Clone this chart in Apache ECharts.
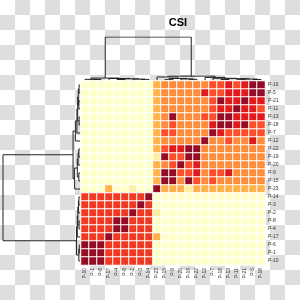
<!DOCTYPE html>
<html>
<head>
<meta charset="utf-8">
<script src="https://cdn.jsdelivr.net/npm/echarts/dist/echarts.min.js"></script>
<style>
  html, body { margin: 0; padding: 0; }
  body { background: repeating-conic-gradient(#dedede 0 25%, #fff 0 50%) 0 0 / 30px 30px; }
  #main { width: 300px; height: 300px; }
</style>
</head>
<body>
<div id="main"></div>
<script>
// column order of the heatmap (left to right); rows are the same leaves, top to bottom reversed
const colLabels = ['P-10', 'P-1', 'P-6', 'P-17', 'P-4', 'P-8', 'P-2', 'P-3', 'P-14', 'P-23',
  'P-15', 'P-9', 'P-20', 'P-19', 'P-22', 'P-12', 'P-7', 'P-18', 'P-13', 'P-11', 'P-21', 'P-5', 'P-16'];
const rowLabels = colLabels.slice().reverse();

// colour level of each cell, one string per row (top to bottom), one digit per column
const cellLevels = [
  '000000000' + '3' + '4444445575799',
  '000000000' + '3' + '4444475577799',
  '000000000' + '3' + '4444445977977',
  '000000000' + '3' + '4444445779775',
  '000000000' + '3' + '4944455997777',
  '000000000' + '3' + '4544447997955',
  '000000000' + '3' + '5544449755555',
  '000000000' + '3' + '4444494454474',
  '000000000' + '3' + '5779944444444',
  '000000000' + '1' + '9559944444444',
  '000000000' + '3' + '4595744444444',
  '000000000' + '3' + '9955745574444',
  '000000000' + '3' + '9949545444444',
  '000300100' + '9' + '3331333333333',
  '666666669' + '0' + '0000000000000',
  '666666696' + '0' + '0000000000000',
  '666666966' + '1' + '0000000000000',
  '666699666' + '0' + '0000000000000',
  '666699666' + '0' + '0000000000000',
  '666966666' + '3' + '0000000000000',
  '999666666' + '0' + '0000000000000',
  '999666666' + '0' + '0000000000000',
  '999666666' + '0' + '0000000000000'
];

const levelColors = ['#FFFFCC', '#FFEDA0', '#FED976', '#FEB24C', '#FD8D3C',
  '#FC4E2A', '#EF3B24', '#E31A1C', '#BD0026', '#950D25'];

// clustering merges, hclust style: negative = leaf (column position), positive = earlier merge
const merges = [
  [-2, -3, 0.010], [-1, 1, 0.015], [-5, -6, 0.012], [-8, -9, 0.014],
  [-7, 4, 0.020], [3, 5, 0.028], [-4, 6, 0.035], [2, 7, 0.045],
  [-11, -12, 0.015], [-14, -15, 0.015], [-13, 10, 0.025], [9, 11, 0.035], [-10, 12, 0.07],
  [-22, -23, 0.012], [-20, -21, 0.015], [-18, -19, 0.012], [15, 14, 0.022],
  [16, 17, 0.03], [-17, 18, 0.04], [-16, 19, 0.06], [13, 20, 0.09], [8, 21, 1.0]
];

const heatData = [];
cellLevels.forEach((row, r) => {
  for (let c = 0; c < row.length; c++) heatData.push([c, r, +row[c]]);
});

// dendrogram segments: [pos, height] points
const nodePos = [], nodeH = [];
const info = id => id < 0 ? [-id, 0] : [nodePos[id - 1], nodeH[id - 1]];
const segs = [];
merges.forEach(([a, b, h]) => {
  const [pa, ha] = info(a), [pb, hb] = info(b);
  nodePos.push((pa + pb) / 2);
  nodeH.push(h);
  segs.push([[pa, ha], [pa, h], [pb, h], [pb, hb]]);
});

const hidden = { show: false };
const lineStyle = { color: '#222', width: 1, opacity: 1 };
const lab = { fontSize: 5, color: '#333', fontFamily: 'Liberation Sans, Arial, sans-serif', margin: 3, interval: 0 };

const chart = echarts.init(document.getElementById('main'));
chart.setOption({
  animation: false,
  title: {
    text: 'CSI', left: 173, top: 12, textAlign: 'center',
    textStyle: { fontSize: 11, fontWeight: 'bold', color: '#000', fontFamily: 'Liberation Sans, Arial, sans-serif' }
  },
  grid: [
    { left: 81, top: 81, width: 184, height: 184 },
    { left: 81, top: 37, width: 184, height: 43 },
    { left: 3, top: 81, width: 77, height: 184 }
  ],
  xAxis: [
    { type: 'category', gridIndex: 0, data: colLabels, axisLine: hidden, axisTick: hidden, splitLine: hidden,
      axisLabel: Object.assign({ rotate: 90 }, lab) },
    { type: 'value', gridIndex: 1, min: 0.5, max: 23.5, show: false },
    { type: 'value', gridIndex: 2, min: 0, max: 1, inverse: true, show: false }
  ],
  yAxis: [
    { type: 'category', gridIndex: 0, data: rowLabels, inverse: true, position: 'right',
      axisLine: hidden, axisTick: hidden, splitLine: hidden, axisLabel: lab },
    { type: 'value', gridIndex: 1, min: 0, max: 1, show: false },
    { type: 'value', gridIndex: 2, min: 0.5, max: 23.5, show: false }
  ],
  visualMap: { show: false, min: 0, max: 9, dimension: 2, seriesIndex: 0, inRange: { color: levelColors } },
  series: [
    { type: 'heatmap', xAxisIndex: 0, yAxisIndex: 0, data: heatData, silent: true,
      itemStyle: { borderColor: '#fff', borderWidth: 1 } },
    { type: 'lines', coordinateSystem: 'cartesian2d', xAxisIndex: 1, yAxisIndex: 1, polyline: true, silent: true,
      lineStyle: lineStyle, data: segs.map(s => ({ coords: s })) },
    { type: 'lines', coordinateSystem: 'cartesian2d', xAxisIndex: 2, yAxisIndex: 2, polyline: true, silent: true,
      lineStyle: lineStyle, data: segs.map(s => ({ coords: s.map(([p, h]) => [h, p]) })) }
  ]
});
</script>
</body>
</html>
